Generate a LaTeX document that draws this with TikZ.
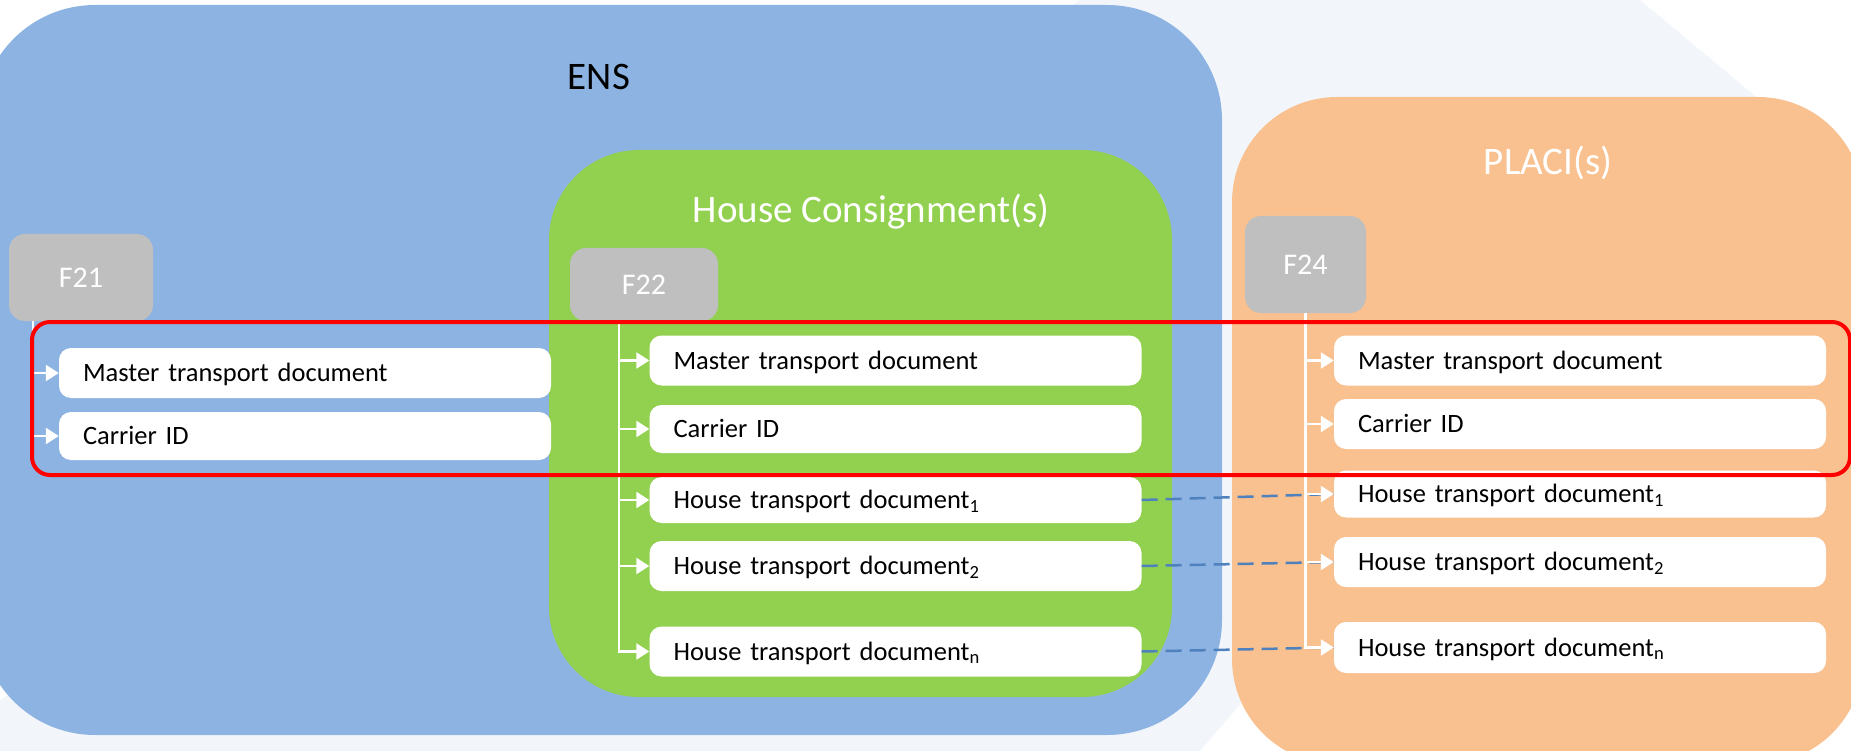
\documentclass[tikz,border=0pt]{standalone}
\usepackage{fontspec}
\setmainfont{Carlito}
\usetikzlibrary{arrows.meta, shapes, positioning}
\definecolor{ensblue}{HTML}{8DB3E2}
\definecolor{hcgreen}{HTML}{92D050}
\definecolor{placiorange}{HTML}{F9C18F}
\definecolor{fgray}{HTML}{BFBFBF}
\definecolor{linkblue}{HTML}{4F81BD}
\definecolor{wmark}{HTML}{F2F6FB}
\tikzstyle{container} = [rectangle, inner sep=0pt, draw=none]
\tikzstyle{heading} = [anchor=base, font=\fontsize{39}{44}\selectfont]
\tikzstyle{fcode} = [rectangle, rounded corners=16pt, fill=fgray, text=white,
font=\fontsize{30}{34}\selectfont]
\tikzstyle{fieldbox} = [rectangle, rounded corners=12pt, fill=white, minimum height=50pt,
text width=444pt, inner xsep=24pt, align=left, text height=17pt, text depth=0pt,
font=\fontsize{26.5}{30}\selectfont]
\tikzstyle{branch} = [white, line width=2.5pt, -{Triangle[length=13pt, width=16pt]}]
\tikzstyle{hlink} = [linkblue, line width=2.5pt, dash pattern=on 16pt off 8pt]
\tikzstyle{redgroup} = [red, line width=4pt, rounded corners=18pt]

\begin{document}
\begin{tikzpicture}[x=1pt, y=-1pt]

    \useasboundingbox (0,0) rectangle (1851,751);
    \clip (0,0) rectangle (1851,751);
    \fill[wmark] (1080,0) -- (1640,0) -- (1760,100) -- (1200,751) -- (0,751) -- (0,700) -- cycle;

    \node (ens) [container, fill=ensblue, rounded corners=115pt, minimum width=1242pt, minimum height=730pt] at (601,370) {};
    \node (placi) [container, fill=placiorange, rounded corners=105pt, minimum width=631pt, minimum height=667pt] at (1547.5,430.5) {};
    \node (hc) [container, fill=hcgreen, rounded corners=90pt, minimum width=623pt, minimum height=547pt] at (860.5,423.5) {};

    \node (enstitle) [heading] at (599,90) {ENS};
    \node (hctitle) [heading, text=white] at (871,223) {House Consignment(s)};
    \node (placititle) [heading, text=white] at (1548,175) {PLACI(s)};

    \node (f21) [fcode, minimum width=144pt, minimum height=87pt] at (81,277.5) {F21};
    \node (f22) [fcode, minimum width=148pt, minimum height=73pt] at (644,284.5) {F22};
    \node (f24) [fcode, minimum width=121pt, minimum height=97pt] at (1305.5,264.5) {F24};

    \node (l1) [fieldbox] at (305,373) {Master transport document};
    \node (l2) [fieldbox, minimum height=48pt] at (305,436) {Carrier ID};

    \node (m1) [fieldbox] at (895.5,360.5) {Master transport document};
    \node (m2) [fieldbox, minimum height=48pt] at (895.5,429) {Carrier ID};
    \node (m3) [fieldbox, minimum height=46pt] at (895.5,500) {House transport document\textsubscript{1}};
    \node (m4) [fieldbox] at (895.5,566) {House transport document\textsubscript{2}};
    \node (m5) [fieldbox] at (895.5,651.5) {House transport document\textsubscript{n}};

    \node (r1) [fieldbox] at (1580,360.5) {Master transport document};
    \node (r2) [fieldbox] at (1580,424) {Carrier ID};
    \node (r3) [fieldbox, minimum height=47pt] at (1580,494) {House transport document\textsubscript{1}};
    \node (r4) [fieldbox] at (1580,562) {House transport document\textsubscript{2}};
    \node (r5) [fieldbox, minimum height=51pt] at (1580,647.5) {House transport document\textsubscript{n}};

    \draw[hlink] (m3.east) -- (r3.west);
    \draw[hlink] (m4.east) -- (r4.west);
    \draw[hlink] (m5.east) -- (r5.west);

    \draw[branch] ([xshift=24pt]f21.south west) |- (l1.west);
    \draw[branch] ([xshift=24pt]f21.south west) |- (l2.west);
    \foreach \n in {m1,m2,m3,m4,m5}
        \draw[branch] ([xshift=49pt]f22.south west) |- (\n.west);
    \foreach \n in {r1,r2,r3,r4,r5}
        \draw[branch] (f24.south) |- (\n.west);

    \draw[redgroup] (32,322) rectangle (1850,475);

\end{tikzpicture}
\end{document}
